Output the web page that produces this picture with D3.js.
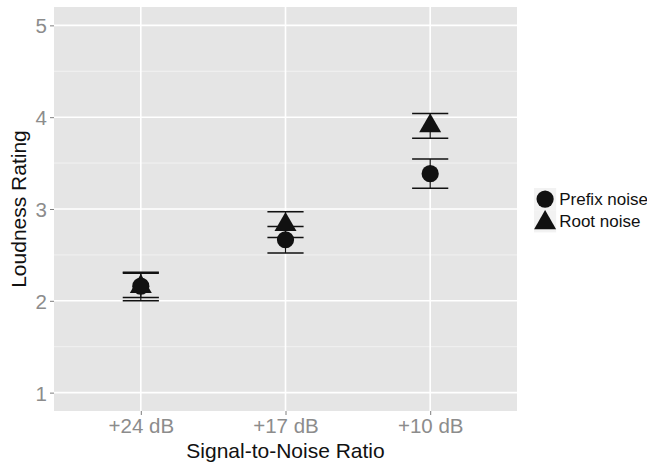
<!DOCTYPE html>
<html>
<head>
<meta charset="utf-8">
<script src="https://cdn.jsdelivr.net/npm/d3@7"></script>
<style>
  body { margin: 0; background: #fff; }
  text { font-family: "Liberation Sans", Arial, Helvetica, sans-serif; }
</style>
</head>
<body>
<svg id="plot" width="647" height="465"></svg>
<script>
// data
var conditions = ["+24 dB", "+17 dB", "+10 dB"];
var seriesNames = ["Prefix noise", "Root noise"];
var prefixMean = [2.16, 2.665, 3.385];
var prefixLow  = [2.036, 2.52, 3.225];
var prefixHigh = [2.30, 2.81, 3.545];
var rootMean = [2.155, 2.83, 3.905];
var rootLow  = [2.0, 2.69, 3.77];
var rootHigh = [2.31, 2.97, 4.04];
var yTicks = [1, 2, 3, 4, 5];
var yMinor = [1.5, 2.5, 3.5, 4.5];

var svg = d3.select("#plot"),
  margin = {top: 7, right: 130, bottom: 54, left: 54},
  width = +svg.attr("width") - margin.left - margin.right,
  height = +svg.attr("height") - margin.top - margin.bottom,
  g = svg.append("g").attr("transform", "translate(" + margin.left + "," + margin.top + ")");

var x = d3.scalePoint()
  .domain(conditions)
  .range([0, width])
  .padding(0.6);

var y = d3.scaleLinear()
  .domain([0.8, 5.2])
  .range([height, 0]);

// panel background
g.append("rect")
  .attr("width", width)
  .attr("height", height)
  .attr("fill", "#e5e5e5");

// minor gridlines
g.selectAll(".minor")
  .data(yMinor)
  .enter().append("line")
  .attr("x1", 0).attr("x2", width)
  .attr("y1", function(d) { return y(d); })
  .attr("y2", function(d) { return y(d); })
  .attr("stroke", "#f2f2f2")
  .attr("stroke-width", 1);

// major gridlines
g.selectAll(".hmajor")
  .data(yTicks)
  .enter().append("line")
  .attr("x1", 0).attr("x2", width)
  .attr("y1", function(d) { return y(d); })
  .attr("y2", function(d) { return y(d); })
  .attr("stroke", "#fff")
  .attr("stroke-width", 1.6);

g.selectAll(".vmajor")
  .data(conditions)
  .enter().append("line")
  .attr("y1", 0).attr("y2", height)
  .attr("x1", function(d) { return x(d); })
  .attr("x2", function(d) { return x(d); })
  .attr("stroke", "#fff")
  .attr("stroke-width", 1.6);

// axes
var xAxis = g.append("g")
  .attr("transform", "translate(0," + height + ")")
  .call(d3.axisBottom(x).tickSize(4).tickPadding(3));
var yAxis = g.append("g")
  .call(d3.axisLeft(y).tickValues(yTicks).tickFormat(d3.format("d")).tickSize(4).tickPadding(3));

[xAxis, yAxis].forEach(function(a) {
  a.select(".domain").remove();
  a.selectAll(".tick line").attr("stroke", "#7f7f7f").attr("stroke-width", 1);
  a.selectAll(".tick text")
    .attr("fill", "#8c8c8c")
    .style("font-size", "20.5px")
    .style("font-family", "'Liberation Sans', Arial, sans-serif");
});
yAxis.selectAll(".tick text").attr("dy", "0.36em");
xAxis.selectAll(".tick text").attr("dy", "0.71em");

// axis titles
g.append("text")
  .attr("x", width / 2)
  .attr("y", height + 47)
  .attr("text-anchor", "middle")
  .attr("fill", "#111")
  .style("font-size", "21px")
  .text("Signal-to-Noise Ratio");

g.append("text")
  .attr("transform", "rotate(-90)")
  .attr("x", -height / 2)
  .attr("y", -28)
  .attr("text-anchor", "middle")
  .attr("fill", "#111")
  .style("font-size", "21px")
  .text("Loudness Rating");

var series = [
  {name: seriesNames[0], mean: prefixMean, lo: prefixLow, hi: prefixHigh, shape: "circle"},
  {name: seriesNames[1], mean: rootMean, lo: rootLow, hi: rootHigh, shape: "triangle"}
];

var barHalf = x.step() * 0.125;

// R-like filled triangle, centred on circumcentre
function triPath(r) {
  var xc = Math.sqrt(3) / 2 * r;
  return "M0," + (-r) + "L" + xc + "," + (r / 2) + "L" + (-xc) + "," + (r / 2) + "Z";
}

function drawShape(sel, shape) {
  if (shape === "circle") {
    sel.append("circle").attr("r", 8.6).attr("fill", "#111");
  } else {
    sel.append("path").attr("d", triPath(12.7)).attr("fill", "#111");
  }
}

// error bars
series.forEach(function(s) {
  var eb = g.append("g").selectAll("g")
    .data(conditions)
    .enter().append("g")
    .attr("stroke", "#111")
    .attr("stroke-width", 1.5);
  eb.append("line")
    .attr("x1", function(d) { return x(d); })
    .attr("x2", function(d) { return x(d); })
    .attr("y1", function(d, i) { return y(s.lo[i]); })
    .attr("y2", function(d, i) { return y(s.hi[i]); })
    .attr("stroke-width", 1.2);
  eb.append("line")
    .attr("x1", function(d) { return x(d) - barHalf; })
    .attr("x2", function(d) { return x(d) + barHalf; })
    .attr("y1", function(d, i) { return y(s.hi[i]); })
    .attr("y2", function(d, i) { return y(s.hi[i]); });
  eb.append("line")
    .attr("x1", function(d) { return x(d) - barHalf; })
    .attr("x2", function(d) { return x(d) + barHalf; })
    .attr("y1", function(d, i) { return y(s.lo[i]); })
    .attr("y2", function(d, i) { return y(s.lo[i]); });
});

// points
series.forEach(function(s) {
  g.append("g").selectAll("g")
    .data(conditions)
    .enter().append("g")
    .attr("transform", function(d, i) { return "translate(" + x(d) + "," + y(s.mean[i]) + ")"; })
    .each(function() { drawShape(d3.select(this), s.shape); });
});

// legend
var legend = svg.append("g").attr("transform", "translate(534,188)");
var keySize = 22.2;

series.forEach(function(s, i) {
  var row = legend.append("g").attr("transform", "translate(0," + (i * keySize) + ")");
  row.append("rect")
    .attr("width", keySize)
    .attr("height", keySize)
    .attr("fill", "#f2f2f2");
  var key = row.append("g")
    .attr("transform", "translate(" + (keySize / 2) + "," + (keySize / 2 + (s.shape === "triangle" ? 1.5 : 0)) + ")");
  drawShape(key, s.shape);
  row.append("text")
    .attr("x", keySize + 3)
    .attr("y", keySize / 2)
    .attr("dy", "0.36em")
    .attr("fill", "#111")
    .style("font-size", "17px")
    .text(s.name);
});
</script>
</body>
</html>
